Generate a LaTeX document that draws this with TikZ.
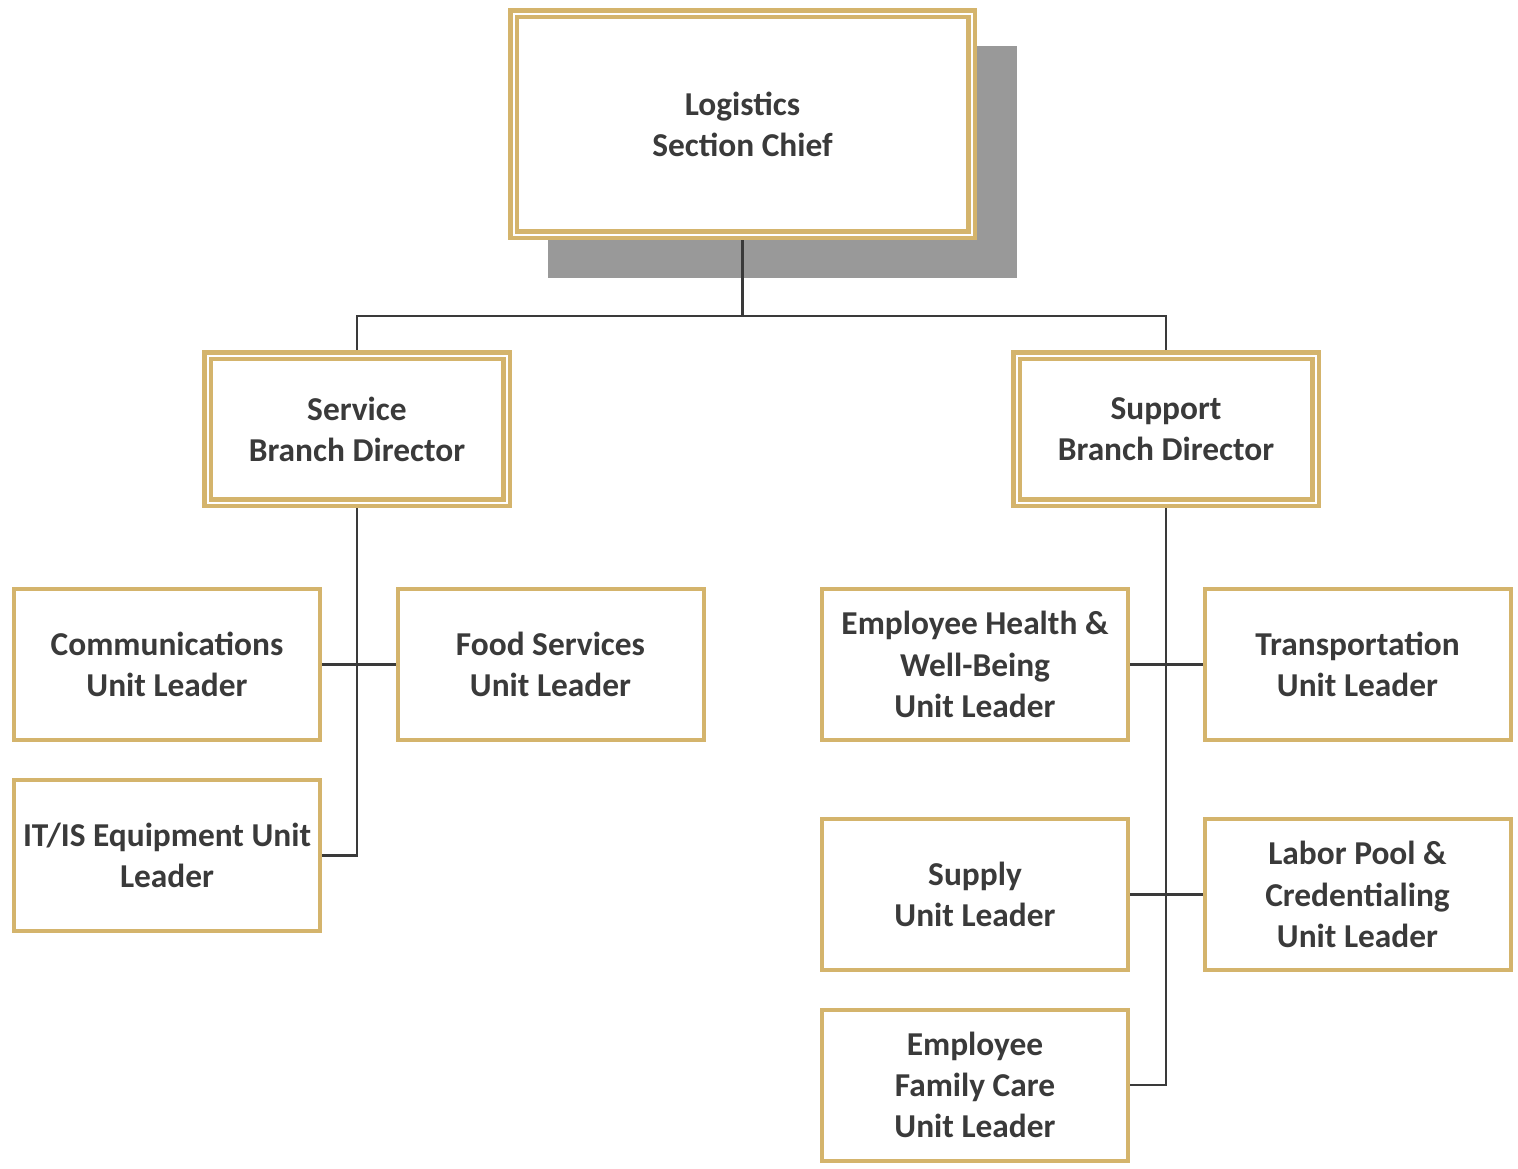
\documentclass[tikz,border=0pt]{standalone}
\usepackage{fontspec}
\setmainfont{Carlito}
\usetikzlibrary{positioning,calc,backgrounds}
\definecolor{gold}{RGB}{212,180,108}
\definecolor{shadowgray}{RGB}{153,153,153}
\definecolor{inkgray}{RGB}{58,58,58}

\begin{document}
\begin{tikzpicture}[on grid,
  chart/.style={align=center,fill=white,text=inkgray,
    font=\fontsize{9.5}{11.7}\selectfont\bfseries},
  branch/.style={chart,draw=gold,double=white,line width=0.045cm,
    double distance=0.02cm,outer sep=0.055cm},
  unit/.style={chart,draw=gold,line width=0.04cm,inner xsep=0.5pt,
    minimum width=3.06cm,minimum height=1.51cm},
  link/.style={draw=inkgray,line width=0.028cm}]
  \useasboundingbox (0,0) rectangle (15.18,-11.68);

  \node[branch,minimum width=4.58cm,minimum height=2.21cm] (chief) at (7.425,-1.24)
    {Logistics\\Section Chief};
  \node[branch,minimum width=2.99cm,minimum height=1.47cm] (service)
    [below left=3.05cm and 3.855cm of chief] {Service\\Branch Director};
  \node[branch,minimum width=2.99cm,minimum height=1.47cm] (support)
    [below right=3.05cm and 4.235cm of chief] {Support\\Branch Director};

  \node[unit] (comm) [below left=2.355cm and 1.9cm of service] {Communications\\Unit Leader};
  \node[unit] (food) [below right=2.355cm and 1.935cm of service] {Food Services\\Unit Leader};
  \node[unit] (itis) [below=1.91cm of comm] {IT/IS Equipment Unit\\Leader};

  \node[unit] (health) [below left=2.355cm and 1.91cm of support] {Employee Health \&\\Well-Being\\Unit Leader};
  \node[unit] (transport) [below right=2.355cm and 1.915cm of support] {Transportation\\Unit Leader};
  \node[unit] (supply) [below=2.3cm of health] {Supply\\Unit Leader};
  \node[unit] (labor) [below=2.3cm of transport] {Labor Pool \&\\Credentialing\\Unit Leader};
  \node[unit] (family) [below=1.905cm of supply] {Employee\\Family Care\\Unit Leader};

  \begin{scope}[on background layer]
    \fill[shadowgray] ($(chief.south west)+(0.4,-0.38)$) rectangle ($(chief.north east)+(0.4,-0.38)$);
  \end{scope}

  \draw[link] (chief.south) -- ++(0,-0.76) coordinate (bus);
  \draw[link] (bus) -| (service.north);
  \draw[link] (bus) -| (support.north);

  \draw[link] (service.south) |- (itis.east);
  \draw[link] (comm.east) -- (food.west);

  \draw[link] (support.south) |- (family.east);
  \draw[link] (health.east) -- (transport.west);
  \draw[link] (supply.east) -- (labor.west);
\end{tikzpicture}
\end{document}
